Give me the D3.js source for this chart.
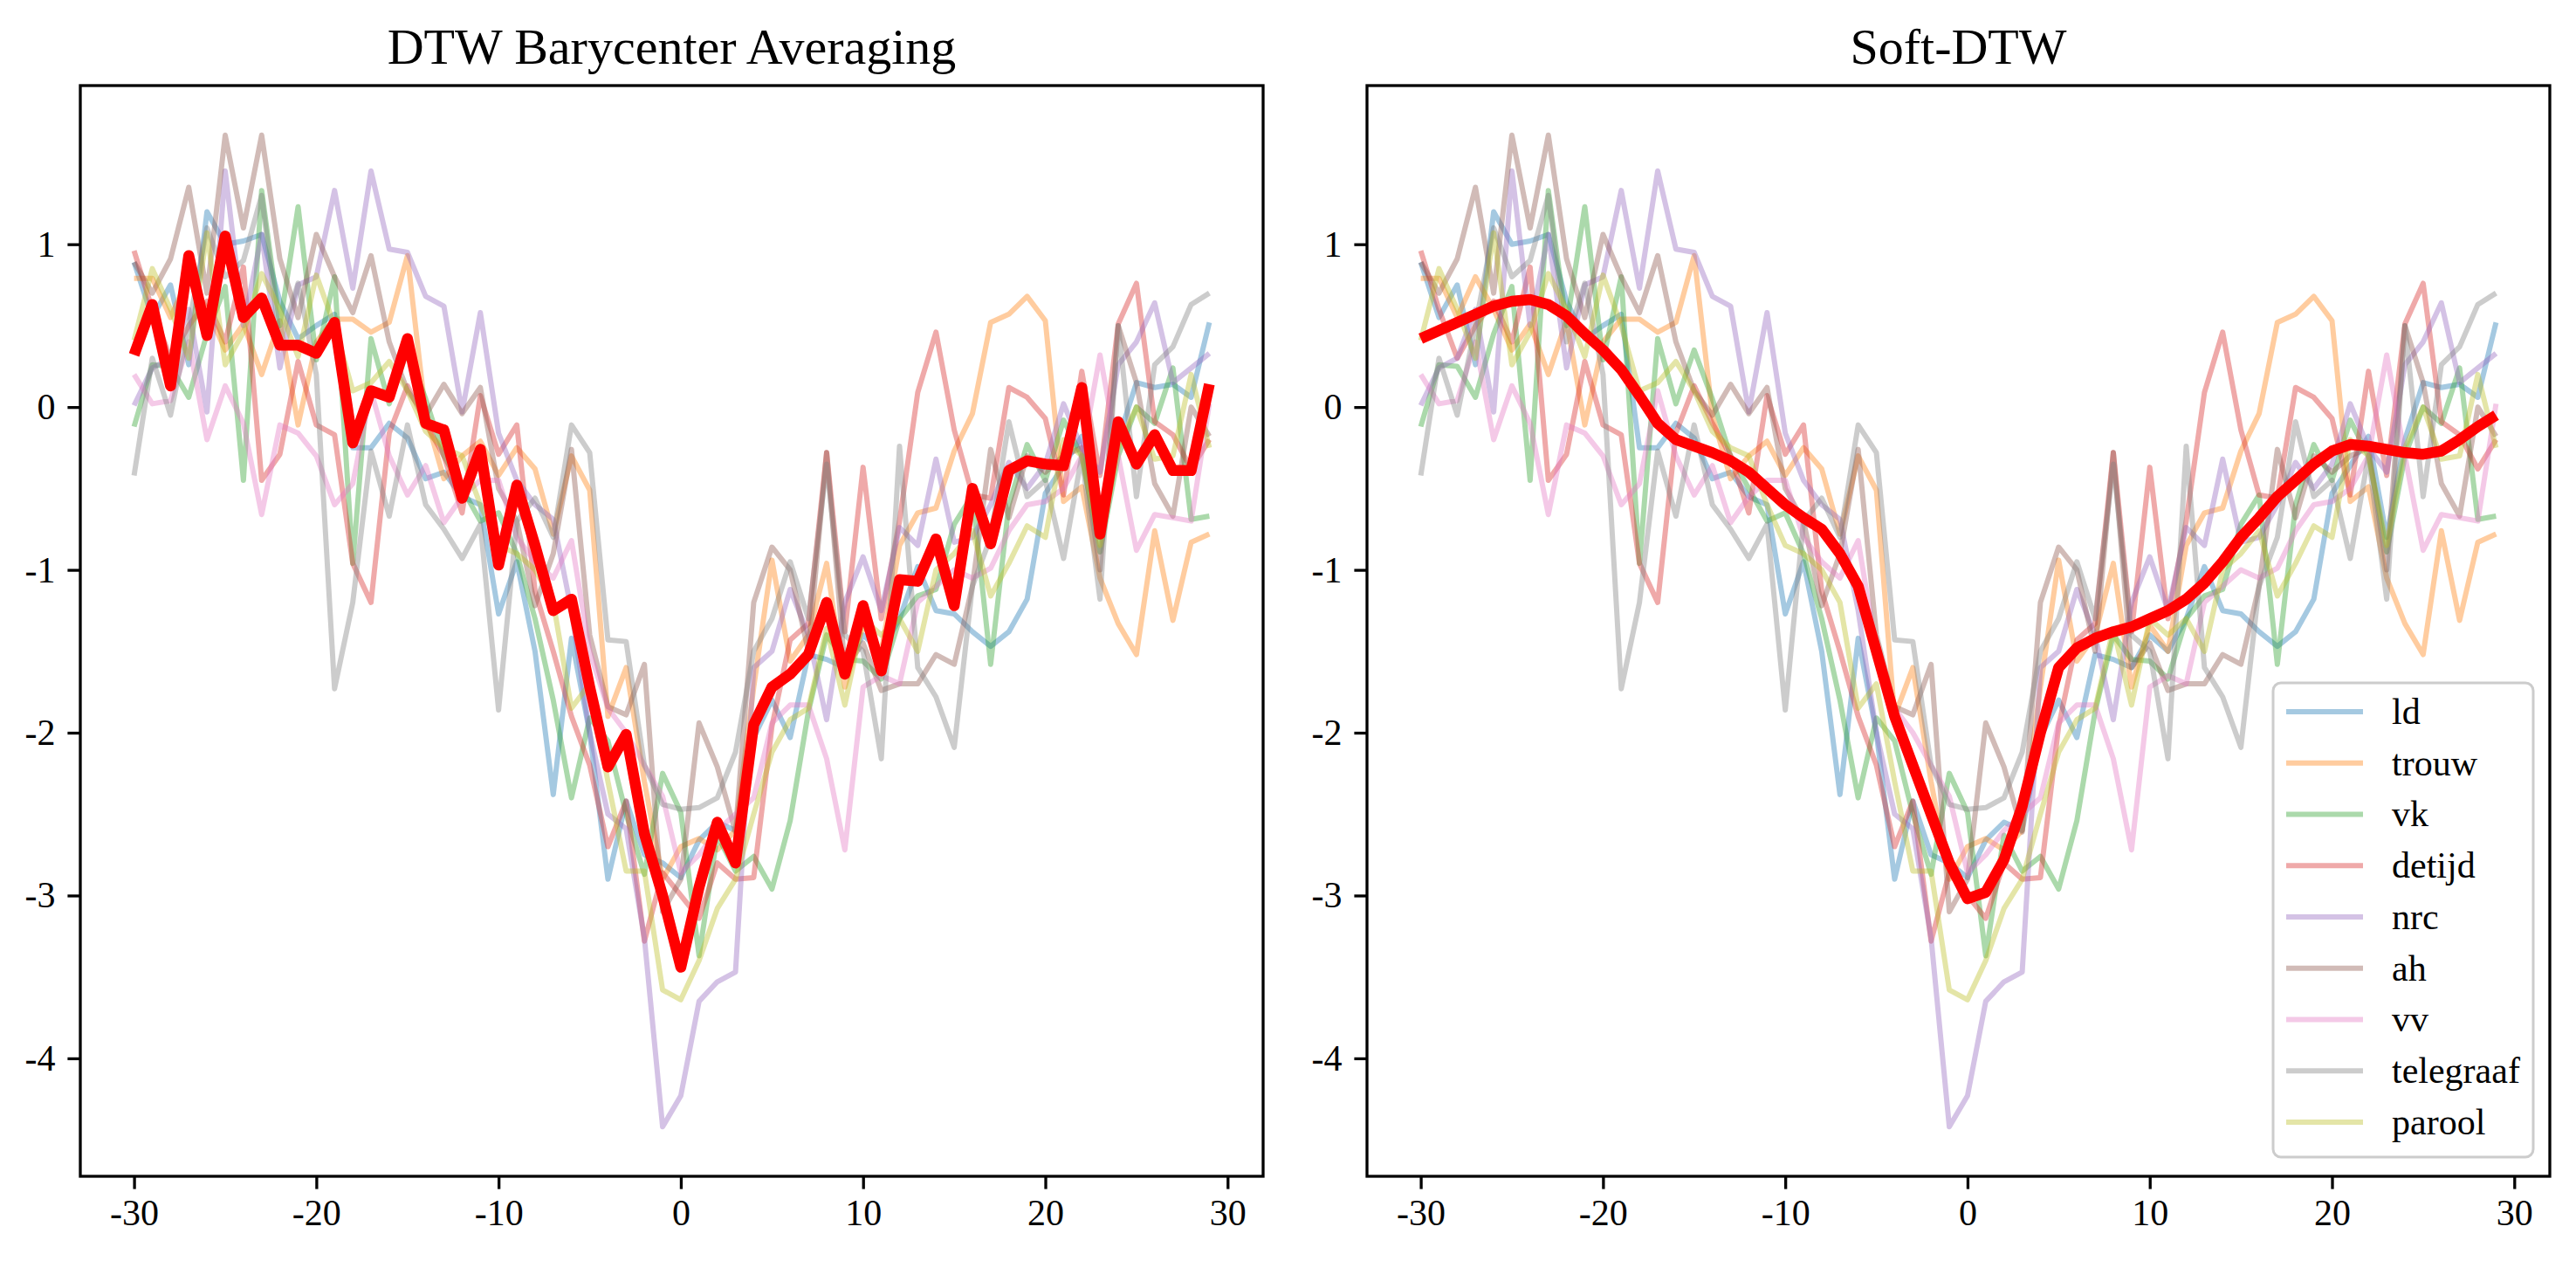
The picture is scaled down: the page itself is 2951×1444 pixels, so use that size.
<!DOCTYPE html>
<html>
<head>
<meta charset="utf-8">
<script src="https://cdn.jsdelivr.net/npm/d3@7"></script>
<style>
  body { margin: 0; background: #fff; }
  svg { display: block; }
</style>
</head>
<body>
<svg id="chart" width="2951" height="1444"></svg>
<script>
// x axis: days around the event
const days = d3.range(-30, 30);

const seriesNames = ["ld", "trouw", "vk", "detijd", "nrc", "ah", "vv", "telegraaf", "parool"];
const seriesColors = ["#1f77b4", "#ff7f0e", "#2ca02c", "#d62728", "#9467bd", "#8c564b", "#e377c2", "#7f7f7f", "#bcbd22"];

const ld = [0.89, 0.55, 0.75, 0.26, 1.2, 1.0, 1.02, 1.06, 0.65, 0.42, 0.5, 0.57, -0.25, -0.25, -0.1, -0.19, -0.44, -0.4, -0.55, -0.6,
  -1.27, -0.95, -1.5, -2.38, -1.42, -2.0, -2.9, -2.42, -2.75, -2.8, -2.89, -2.66, -2.55, -2.6, -2.03, -1.8, -2.03, -1.52, -1.55, -1.6,
  -1.4, -1.5, -1.3, -0.98, -1.25, -1.27, -1.38, -1.47, -1.38, -1.18, -0.53, -0.36, -0.18, -0.8, -0.2, 0.15, 0.12, 0.14, 0.06, 0.52];
const trouw = [0.79, 0.79, 0.55, 0.8, 0.6, 0.35, 0.51, 0.2, 0.53, -0.11, 0.4, 0.54, 0.54, 0.46, 0.52, 0.93, -0.05, -0.44, -0.3, -0.21,
  -0.42, -0.25, -0.38, -0.78, -0.3, -0.51, -1.9, -1.6, -2.3, -2.9, -2.7, -2.65, -2.72, -2.6, -1.72, -0.94, -1.56, -1.4, -0.96, -1.72,
  -1.34, -1.5, -0.85, -0.65, -0.62, -0.27, -0.04, 0.52, 0.57, 0.68, 0.53, -0.58, -0.49, -1.05, -1.33, -1.52, -0.76, -1.31, -0.83, -0.78];
const vk = [-0.12, 0.26, 0.25, 0.06, 0.45, 0.74, -0.45, 1.33, 0.5, 1.23, 0.29, 0.8, -0.96, 0.42, 0.02, 0.35, 0.05, -0.3, -0.5, -0.7,
  -0.65, -0.9, -1.3, -1.8, -2.4, -1.91, -2.05, -2.5, -2.87, -2.25, -2.49, -3.37, -2.63, -2.85, -2.76, -2.96, -2.54, -1.87, -1.4, -1.55,
  -1.56, -1.67, -1.3, -1.16, -1.12, -0.72, -0.54, -1.58, -0.6, -0.23, -0.45, -0.08, -0.3, -0.89, -0.3, 0.0, -0.1, 0.24, -0.69, -0.67];
const detijd = [0.96, 0.6, 0.3, 0.5, 0.65, 0.4, 0.86, -0.45, -0.29, 0.28, -0.11, -0.17, -0.96, -1.2, -0.16, 0.13, -0.1, -0.3, -0.65, 0.07,
  -0.29, -0.11, -1.13, -1.5, -1.9, -2.2, -2.7, -2.42, -3.28, -2.86, -3.0, -3.14, -2.8, -2.9, -2.89, -1.96, -1.43, -1.33, -0.28, -1.38,
  -0.37, -1.3, -0.7, 0.09, 0.46, -0.14, -0.54, -0.56, 0.12, 0.06, -0.07, -0.54, 0.22, -0.42, 0.51, 0.76, -0.09, -0.17, -0.38, -0.2];
const nrc = [0.01, 0.24, 0.3, 0.6, -0.03, 1.45, 0.5, 1.06, 0.24, 0.75, 0.8, 1.33, 0.73, 1.45, 0.97, 0.95, 0.68, 0.62, -0.03, 0.58,
  -0.16, -0.45, -0.6, -0.69, -1.25, -2.0, -2.5, -2.59, -3.26, -4.42, -4.23, -3.65, -3.53, -3.47, -1.6, -1.5, -1.12, -1.4, -1.92, -1.2,
  -0.92, -1.25, -0.74, -0.85, -0.32, -0.83, -0.8, -0.6, -0.34, -0.5, -0.35, 0.02, -0.25, -0.4, 0.26, 0.4, 0.64, 0.15, 0.24, 0.33];
const ah = [0.89, 0.7, 0.91, 1.35, 0.7, 1.67, 1.1, 1.67, 0.91, 0.55, 1.06, 0.8, 0.58, 0.93, 0.4, 0.1, -0.05, 0.14, -0.04, 0.12,
  -0.5, -0.7, -1.22, -0.9, -0.26, -1.4, -1.84, -1.89, -1.58, -3.1, -2.9, -1.94, -2.21, -2.61, -1.2, -0.86, -1.0, -1.5, -0.28, -1.6,
  -1.45, -1.74, -1.7, -1.7, -1.52, -1.58, -1.1, -0.26, -0.68, -0.3, -0.4, -0.3, -0.25, -1.0, 0.5, 0.15, -0.47, -0.67, 0.0, -0.18];
const vv = [0.2, 0.02, 0.04, 0.4, -0.2, 0.13, -0.1, -0.66, -0.11, -0.16, -0.3, -0.6, -0.47, 0.1, -0.3, -0.54, -0.36, -0.71, -0.55, -0.45,
  -0.45, -0.8, -0.95, -1.05, -0.82, -1.5, -1.85, -2.0, -2.2, -2.39, -2.86, -2.75, -2.6, -2.5, -2.4, -1.94, -1.83, -1.83, -2.16, -2.72,
  -1.72, -1.65, -1.7, -1.2, -1.1, -1.0, -1.05, -0.99, -0.76, -0.6, -0.58, -0.5, -0.3, 0.32, -0.3, -0.88, -0.66, -0.68, -0.7, 0.02];
const telegraaf = [-0.42, 0.3, -0.05, 0.5, 1.1, 0.8, 0.9, 1.3, 0.4, 0.76, 0.2, -1.73, -1.2, -0.27, -0.67, -0.11, -0.6, -0.75, -0.93, -0.72,
  -1.86, -0.7, -0.56, -0.8, -0.11, -0.28, -1.43, -1.44, -2.2, -2.44, -2.47, -2.46, -2.4, -2.12, -1.5, -1.3, -0.95, -1.3, -0.35, -1.4,
  -1.5, -2.16, -0.24, -1.6, -1.78, -2.09, -1.1, -0.8, -0.09, -0.55, -0.45, -0.93, -0.3, -1.18, 0.5, -0.55, 0.26, 0.37, 0.63, 0.7];
const parool = [0.41, 0.85, 0.6, 0.3, 1.07, 0.26, 0.46, 0.82, 0.6, 0.31, 0.81, 0.5, 0.1, 0.15, 0.28, 0.1, -0.15, -0.25, -0.3, -0.6,
  -0.85, -0.9, -1.0, -1.2, -1.85, -1.7, -2.3, -2.85, -2.85, -3.58, -3.64, -3.4, -3.08, -2.9, -2.5, -2.12, -1.92, -1.85, -1.36, -1.83,
  -1.3, -1.4, -1.3, -1.5, -1.0, -0.9, -0.76, -1.16, -0.96, -0.73, -0.8, -0.2, -0.3, -0.85, -0.25, 0.0, -0.32, -0.3, 0.2, -0.25];

// the two averages
const dba = [0.32, 0.63, 0.13, 0.93, 0.44, 1.05, 0.55, 0.67, 0.38, 0.38, 0.33, 0.52, -0.22, 0.1, 0.06, 0.42, -0.1, -0.14, -0.56, -0.26,
  -0.97, -0.48, -0.85, -1.25, -1.18, -1.72, -2.21, -2.01, -2.62, -3.0, -3.44, -2.95, -2.55, -2.8, -1.95, -1.72, -1.64, -1.52, -1.2, -1.64,
  -1.22, -1.62, -1.06, -1.07, -0.81, -1.22, -0.5, -0.84, -0.39, -0.33, -0.35, -0.36, 0.12, -0.78, -0.09, -0.35, -0.17, -0.39, -0.39, 0.14];
const softDtw = [0.42, 0.47, 0.52, 0.57, 0.62, 0.65, 0.66, 0.63, 0.56, 0.45, 0.35, 0.23, 0.07, -0.1, -0.2, -0.24, -0.28, -0.33, -0.4, -0.5,
  -0.6, -0.68, -0.75, -0.9, -1.1, -1.5, -1.9, -2.2, -2.5, -2.8, -3.02, -2.98, -2.78, -2.45, -2.0, -1.6, -1.48, -1.42, -1.38, -1.35,
  -1.3, -1.25, -1.18, -1.08, -0.95, -0.8, -0.68, -0.55, -0.45, -0.35, -0.27, -0.23, -0.24, -0.26, -0.28, -0.29, -0.27, -0.2, -0.12, -0.05];

const allSeries = [ld, trouw, vk, detijd, nrc, ah, vv, telegraaf, parool];

const xTicks = [-30, -20, -10, 0, 10, 20, 30];
const yTicks = [-4, -3, -2, -1, 0, 1];

const svg = d3.select("#chart");
const FONT = "'Liberation Serif', 'Times New Roman', serif";
const plotTop = 98, plotBottom = 1347;

// 5% margins like matplotlib
const yMin = d3.min(allSeries.concat([dba, softDtw]), s => d3.min(s));
const yMax = d3.max(allSeries.concat([dba, softDtw]), s => d3.max(s));
const yPad = (yMax - yMin) * 0.05;
const xPad = (29 - (-30)) * 0.05;

const panels = [
  { left: 92, right: 1447, title: "DTW Barycenter Averaging", avg: dba, legend: false },
  { left: 1566, right: 2921, title: "Soft-DTW", avg: softDtw, legend: true }
];

panels.forEach(p => {
  const x = d3.scaleLinear().domain([-30 - xPad, 29 + xPad]).range([p.left, p.right]);
  const y = d3.scaleLinear().domain([yMin - yPad, yMax + yPad]).range([plotBottom, plotTop]);

  const g = svg.append("g");
  const line = d3.line().x((d, i) => x(days[i])).y(d => y(d));

  // thin series lines
  allSeries.forEach((s, k) => {
    g.append("path")
      .attr("d", line(s))
      .attr("fill", "none")
      .attr("stroke", seriesColors[k])
      .attr("stroke-opacity", 0.4)
      .attr("stroke-width", 6)
      .attr("stroke-linejoin", "round");
  });

  // average on top
  g.append("path")
    .attr("d", line(p.avg))
    .attr("fill", "none")
    .attr("stroke", "red")
    .attr("stroke-width", 12.5)
    .attr("stroke-linejoin", "round");

  // axes
  const xAxis = g.append("g")
    .attr("transform", `translate(0,${plotBottom})`)
    .call(d3.axisBottom(x).tickValues(xTicks).tickFormat(d => String(d)).tickSize(14.6).tickPadding(12).tickSizeOuter(0));
  const yAxis = g.append("g")
    .attr("transform", `translate(${p.left},0)`)
    .call(d3.axisLeft(y).tickValues(yTicks).tickFormat(d => String(d)).tickSize(14.6).tickPadding(14).tickSizeOuter(0));

  [xAxis, yAxis].forEach(a => {
    a.select(".domain").remove();
    a.selectAll("line").attr("stroke", "#000").attr("stroke-width", 3.3);
    a.selectAll("text").attr("font-family", FONT).attr("font-size", 42).attr("fill", "#000");
  });

  // frame
  g.append("rect")
    .attr("x", p.left).attr("y", plotTop)
    .attr("width", p.right - p.left).attr("height", plotBottom - plotTop)
    .attr("fill", "none").attr("stroke", "#000").attr("stroke-width", 3.3);

  g.append("text")
    .attr("x", (p.left + p.right) / 2)
    .attr("y", 73)
    .attr("text-anchor", "middle")
    .attr("font-family", FONT)
    .attr("font-size", 58)
    .text(p.title);

  if (p.legend) {
    const lg = g.append("g");
    lg.append("rect")
      .attr("x", 2604).attr("y", 782).attr("width", 298).attr("height", 543)
      .attr("rx", 9)
      .attr("fill", "#fff").attr("fill-opacity", 0.8)
      .attr("stroke", "#cccccc").attr("stroke-width", 3);
    seriesNames.forEach((name, k) => {
      const ry = 815 + k * 58.75;
      lg.append("line")
        .attr("x1", 2619).attr("x2", 2707).attr("y1", ry).attr("y2", ry)
        .attr("stroke", seriesColors[k]).attr("stroke-opacity", 0.4).attr("stroke-width", 6);
      lg.append("text")
        .attr("x", 2740).attr("y", ry)
        .attr("dy", "0.33em")
        .attr("font-family", FONT).attr("font-size", 42)
        .text(name);
    });
  }
});
</script>
</body>
</html>
